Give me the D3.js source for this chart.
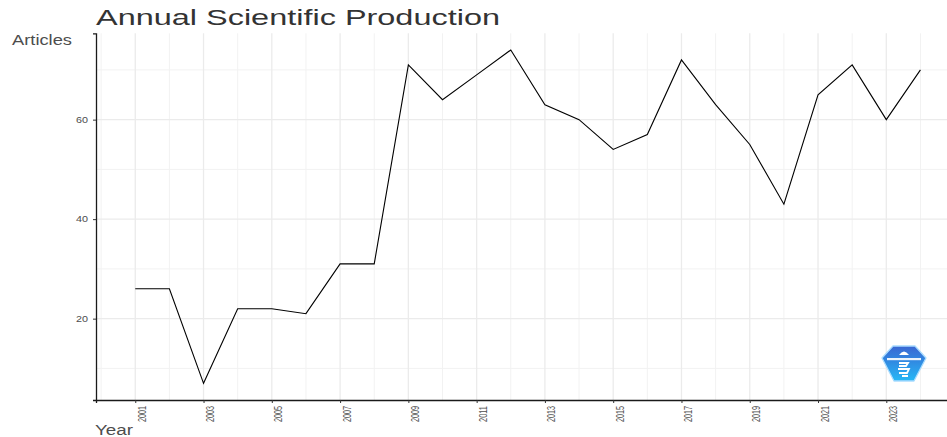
<!DOCTYPE html>
<html>
<head>
<meta charset="utf-8">
<script src="https://cdn.jsdelivr.net/npm/d3@7"></script>
<style>
    body { margin: 0; background: #fff; }
    text { font-family: "Liberation Sans", Arial, sans-serif; }
</style>
</head>
<body>
<div class="LineChart"></div>
<script>
// data
let years = [2001, 2002, 2003, 2004, 2005, 2006, 2007, 2008, 2009, 2010, 2011, 2012,
             2013, 2014, 2015, 2016, 2017, 2018, 2019, 2020, 2021, 2022, 2023, 2024];
let articles = [26, 26, 7, 22, 22, 21, 31, 31, 71, 64, 69, 74,
                63, 60, 54, 57, 72, 63, 55, 43, 65, 71, 60, 70];
let yTicks = [20, 40, 60];
let yMinor = [10, 30, 50, 70];
let xTicks = [2001, 2003, 2005, 2007, 2009, 2011, 2013, 2015, 2017, 2019, 2021, 2023];
let xMinor = [2000, 2002, 2004, 2006, 2008, 2010, 2012, 2014, 2016, 2018, 2020, 2022, 2024];
let titleText = "Annual Scientific Production";

let width = 947, height = 437;
let panel = {left: 96, top: 33.3, bottom: 400, right: 959.7};

let rows = years.map((y, i) => ({year: y, value: articles[i]}));

// ggplot style 5% expansion on both axes
let xExt = d3.extent(years), yExt = d3.extent(articles);
let xPad = (xExt[1] - xExt[0]) * 0.05, yPad = (yExt[1] - yExt[0]) * 0.05;

let xScale = d3.scaleLinear()
    .domain([xExt[0] - xPad, xExt[1] + xPad])
    .range([panel.left, panel.right]);

let yScale = d3.scaleLinear()
    .domain([yExt[0] - yPad, yExt[1] + yPad])
    .range([panel.bottom, panel.top]);

let svg = d3.select(".LineChart")
    .append("svg")
    .attr("width", width)
    .attr("height", height);

// grid
let grid = svg.append("g");
grid.selectAll(".vminor").data(xMinor).enter().append("line")
    .attr("x1", d => xScale(d)).attr("x2", d => xScale(d))
    .attr("y1", panel.top).attr("y2", panel.bottom)
    .attr("stroke", "#f2f2f2").attr("stroke-width", 1);
grid.selectAll(".hminor").data(yMinor).enter().append("line")
    .attr("x1", panel.left).attr("x2", panel.right)
    .attr("y1", d => yScale(d)).attr("y2", d => yScale(d))
    .attr("stroke", "#f2f2f2").attr("stroke-width", 1);
grid.selectAll(".vmajor").data(xTicks).enter().append("line")
    .attr("x1", d => xScale(d)).attr("x2", d => xScale(d))
    .attr("y1", panel.top).attr("y2", panel.bottom)
    .attr("stroke", "#ebebeb").attr("stroke-width", 1.3);
grid.selectAll(".hmajor").data(yTicks).enter().append("line")
    .attr("x1", panel.left).attr("x2", panel.right)
    .attr("y1", d => yScale(d)).attr("y2", d => yScale(d))
    .attr("stroke", "#ebebeb").attr("stroke-width", 1.3);

// logo (bibliometrix style hexagon)
let defs = svg.append("defs");
let grad = defs.append("linearGradient").attr("id", "logoGrad")
    .attr("x1", 0).attr("y1", 0).attr("x2", 0).attr("y2", 1);
grad.append("stop").attr("offset", "0%").attr("stop-color", "#3a66d2");
grad.append("stop").attr("offset", "100%").attr("stop-color", "#26b8f6");
let logo = svg.append("g").attr("transform", "translate(904,363)");
logo.append("path")
    .attr("d", "M-11,-17 L11,-17 L22,-5 L10,18 L-10,18 L-22,-5 Z")
    .attr("fill", "url(#logoGrad)")
    .attr("stroke", "#a9dcff").attr("stroke-width", 1.3)
    .attr("stroke-linejoin", "round");
logo.append("path")
    .attr("d", "M-5,-8 Q0,-15 5,-8 Z")
    .attr("fill", "#fff");
logo.append("rect").attr("x", -17).attr("y", -5).attr("width", 34).attr("height", 2.2)
    .attr("fill", "#fff").attr("opacity", 0.9);
logo.append("path")
    .attr("d", "M-5,0 L4,0 L2,3 L-5,3 M-6,6 L5,6 L3,10 L-5,10 M-2,13 L4,13")
    .attr("stroke", "#fff").attr("stroke-width", 1.8).attr("fill", "none");

// the line
let line = d3.line()
    .x(d => xScale(d.year))
    .y(d => yScale(d.value));

svg.append("path")
    .datum(rows)
    .attr("d", line)
    .attr("fill", "none")
    .attr("stroke", "#000")
    .attr("stroke-width", 1.1)
    .attr("stroke-linejoin", "miter");

// axes
let xAxis = d3.axisBottom(xScale).tickValues(xTicks).tickSize(3).tickFormat(d3.format("d"));
let yAxis = d3.axisLeft(yScale).tickValues(yTicks).tickSize(3);

let gx = svg.append("g")
    .attr("transform", "translate(0," + panel.bottom + ")")
    .call(xAxis);
gx.select(".domain").attr("stroke", "#1a1a1a").attr("stroke-width", 1.3);
gx.selectAll(".tick line").attr("stroke", "#333");
gx.selectAll("text")
    .attr("font-size", "11px")
    .attr("fill", "#4d4d4d")
    .attr("text-anchor", "end")
    .attr("x", -6)
    .attr("y", 10)
    .attr("dy", "0")
    .attr("transform", "rotate(-90)")
    .attr("textLength", 16)
    .attr("lengthAdjust", "spacingAndGlyphs");

let gy = svg.append("g")
    .attr("transform", "translate(" + panel.left + ",0)")
    .call(yAxis);
gy.select(".domain").attr("stroke", "#1a1a1a").attr("stroke-width", 1.3);
gy.selectAll(".tick line").attr("stroke", "#333");
gy.selectAll("text")
    .attr("font-size", "8.5px")
    .attr("fill", "#4d4d4d")
    .attr("x", -8)
    .attr("textLength", 12)
    .attr("lengthAdjust", "spacingAndGlyphs");

// titles
svg.append("text")
    .attr("x", 96).attr("y", 25)
    .attr("font-size", "22px")
    .attr("fill", "#333")
    .attr("textLength", 404)
    .attr("lengthAdjust", "spacingAndGlyphs")
    .text(titleText);

svg.append("text")
    .attr("x", 12).attr("y", 45)
    .attr("font-size", "14px")
    .attr("fill", "#4d4d4d")
    .attr("textLength", 60)
    .attr("lengthAdjust", "spacingAndGlyphs")
    .text("Articles");

svg.append("text")
    .attr("x", 95).attr("y", 435)
    .attr("font-size", "14px")
    .attr("fill", "#4d4d4d")
    .attr("textLength", 38)
    .attr("lengthAdjust", "spacingAndGlyphs")
    .text("Year");
</script>
</body>
</html>
